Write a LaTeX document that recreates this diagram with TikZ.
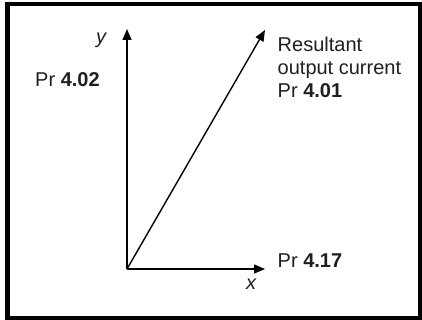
\documentclass[tikz,border=0pt]{standalone}
\usepackage{fontspec}
\setmainfont{Liberation Sans}
\usetikzlibrary{arrows.meta}

\begin{document}
\begin{tikzpicture}[x=1pt,y=-1pt,
    axis/.style={line width=1.4pt, -{Triangle[length=11pt,width=9pt]}},
    lbl/.style={anchor=base west, inner sep=0pt, text=black!88,
        font=\fontsize{20}{23}\selectfont, align=left}]
        \useasboundingbox (0,0) rectangle (422,320);

        % ramecek
        \draw[line width=4.5pt] (7.5,4) rectangle (420.5,318);

        % osy
        \coordinate (O) at (127,269);
        \coordinate (Y) at (127,29);
        \coordinate (X) at (265,269);
        \coordinate (R) at (265,30);

        \draw[axis] (O) -- (Y);
        \draw[axis] (O) -- (X);
        \draw[axis] (O) -- (R);

        % popisky
        \node[lbl, font=\fontsize{20}{23}\itshape] (ylbl) at (96,44) {y};
        \node[lbl, font=\fontsize{20}{23}\itshape] (xlbl) at (246,289) {x};
        \node[lbl] (pr402) at (35,87) {Pr \textbf{4.02}};
        \node[lbl] (res) at (277.5,97.5) {Resultant\\output current\\Pr \textbf{4.01}};
        \node[lbl] (pr417) at (277.5,267) {Pr \textbf{4.17}};

    \end{tikzpicture}
\end{document}
